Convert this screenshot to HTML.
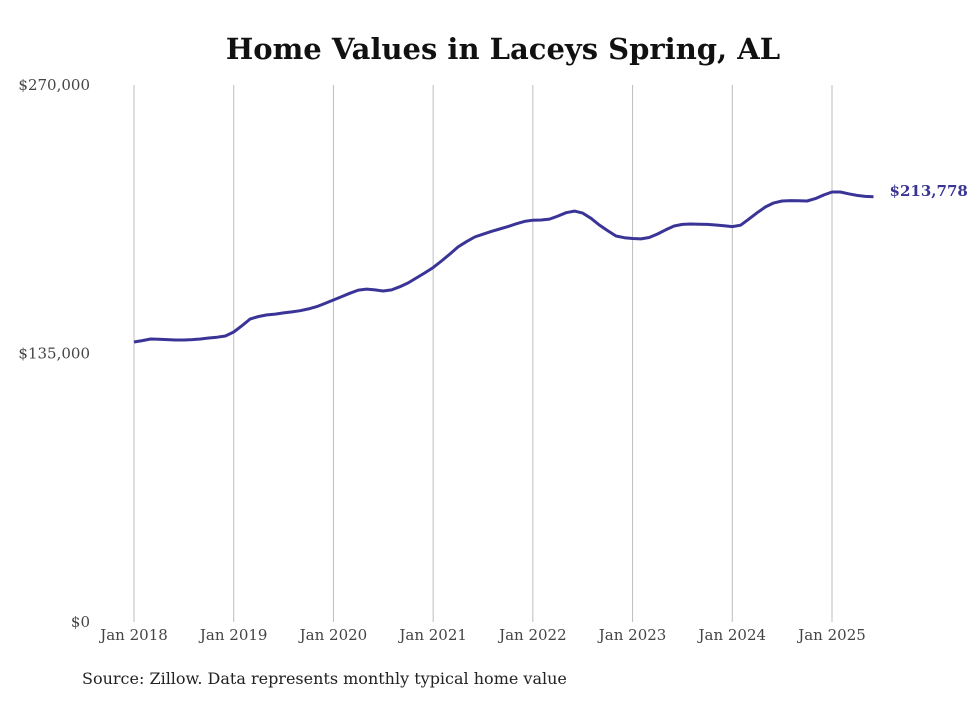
<!DOCTYPE html>
<html><head><meta charset="utf-8"><style>
body{margin:0;background:#fff;}
svg text{font-family:"DejaVu Serif","Liberation Serif",serif;}
</style></head><body>
<svg width="980" height="699" viewBox="0 0 980 699">
<text x="503" y="59" text-anchor="middle" font-size="29" font-weight="bold" fill="#111">Home Values in Laceys Spring, AL</text>
<g id="grid"></g>
<g id="yaxis"></g>
<g id="xaxis"></g>
<path id="line" fill="none" stroke="#3b3497" stroke-width="3" stroke-linejoin="round"/>
<text id="endlabel" font-size="15" font-weight="bold" fill="#3a3592"></text>
<text x="82" y="684" font-size="16" fill="#222">Source: Zillow. Data represents monthly typical home value</text>
</svg>
<script>
const yTickValues=[0,135000,270000];
const yTickLabels=["$0","$135,000","$270,000"];
const xTickLabels=["Jan 2018","Jan 2019","Jan 2020","Jan 2021","Jan 2022","Jan 2023","Jan 2024","Jan 2025"];
const startYear=2018;
const values=[
140.8,141.5,142.3,142.2,142.0,141.8,141.8,142.0,142.3,142.8,143.2,143.8,
145.8,149.0,152.4,153.6,154.4,154.8,155.4,155.9,156.5,157.4,158.6,160.2,
161.9,163.6,165.3,166.9,167.4,167.0,166.4,167.0,168.6,170.5,173.0,175.5,
178.2,181.5,185.0,188.6,191.2,193.6,195.0,196.4,197.6,198.8,200.2,201.4,
202.0,202.1,202.6,204.1,205.8,206.6,205.6,203.0,199.6,196.8,194.1,193.2,
192.8,192.6,193.3,195.1,197.2,199.1,199.9,200.1,200.0,199.9,199.6,199.2,
198.8,199.5,202.6,205.8,208.7,210.7,211.7,211.9,211.8,211.7,212.9,214.7,
216.2,216.2,215.3,214.5,214.0,213.778].map(v=>v*1000);
const endLabel="$213,778";
const NS="http://www.w3.org/2000/svg";
const x=m=>134+m*(698/84);
const y=v=>622-v*(537/270000);
const grid=document.getElementById('grid'),ya=document.getElementById('yaxis'),xa=document.getElementById('xaxis');
xTickLabels.forEach((t,i)=>{
 const l=document.createElementNS(NS,'line');
 
 
 l.setAttribute('x1',x(i*12));l.setAttribute('x2',x(i*12));l.setAttribute('y1',85);l.setAttribute('y2',622);
 l.setAttribute('stroke','#bdbdbd');l.setAttribute('stroke-width','1');grid.appendChild(l);
 const tx=document.createElementNS(NS,'text');
 
 
 tx.setAttribute('x',x(i*12));tx.setAttribute('y',640);tx.setAttribute('text-anchor','middle');
 tx.setAttribute('font-size','15');tx.setAttribute('fill','#444');tx.textContent=t;xa.appendChild(tx);
});
yTickValues.forEach((v,i)=>{
 const tx=document.createElementNS(NS,'text');
 
 
 tx.setAttribute('x',90);tx.setAttribute('y',y(v)+5);tx.setAttribute('text-anchor','end');
 tx.setAttribute('font-size','15');tx.setAttribute('fill','#444');tx.textContent=yTickLabels[i];ya.appendChild(tx);
});
document.getElementById('line').setAttribute('d',values.map((v,i)=>(i?'L':'M')+x(i).toFixed(1)+','+y(v).toFixed(1)).join(''));
const el=document.getElementById('endlabel');
const n=values.length-1;
el.setAttribute('x',x(n)+16);el.setAttribute('y',y(values[n])-1);el.textContent=endLabel;
</script>
</body></html>
